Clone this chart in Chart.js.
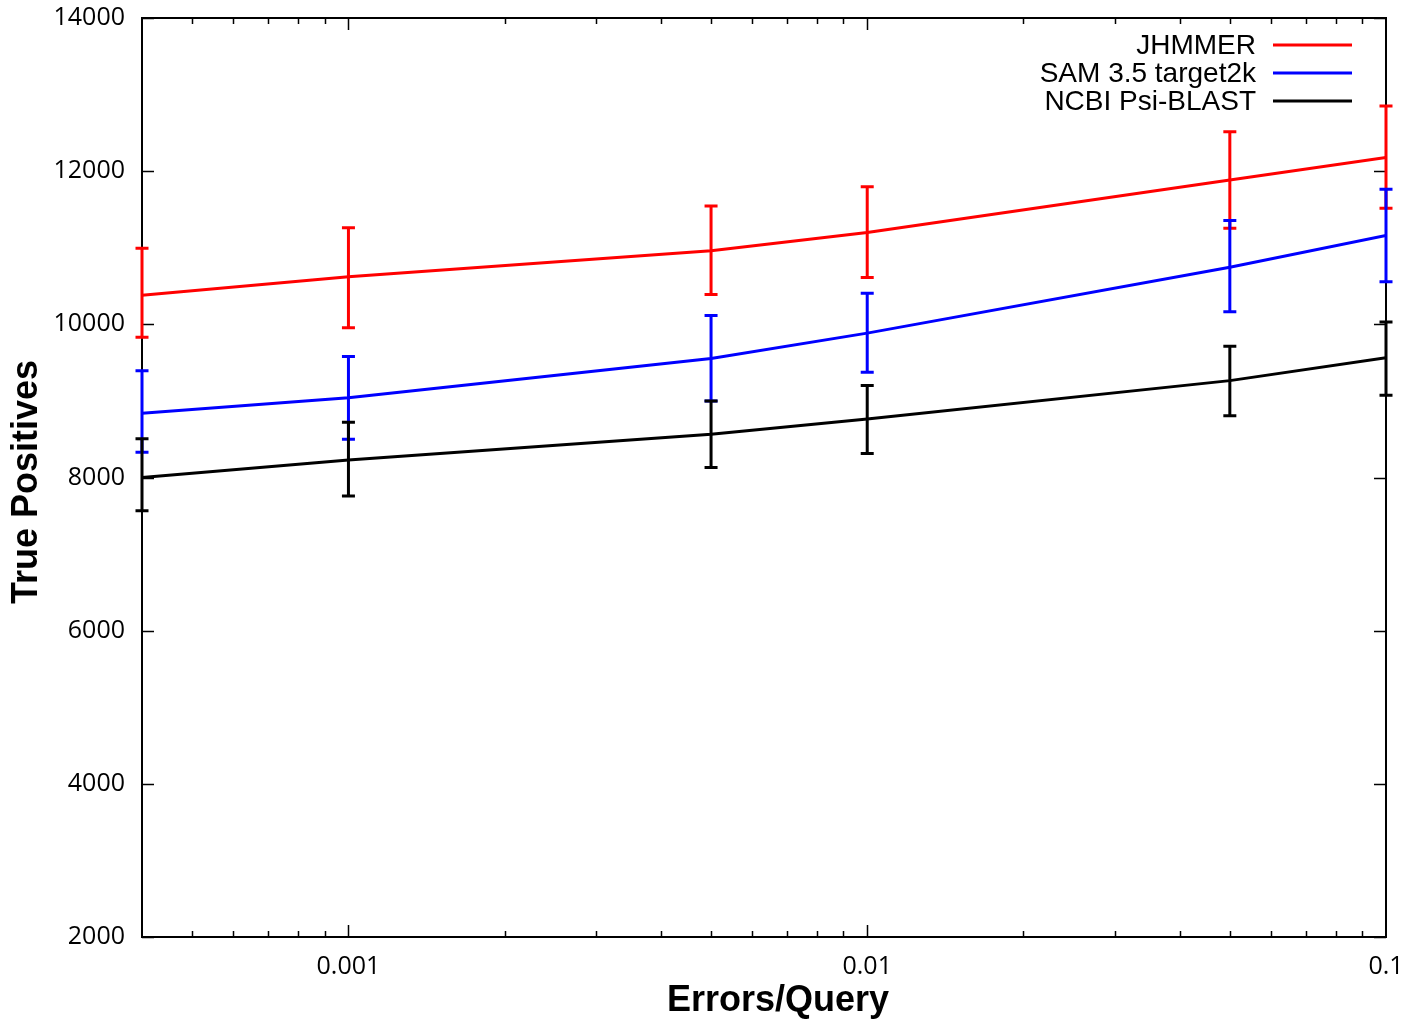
<!DOCTYPE html>
<html>
<head>
<meta charset="utf-8">
<title>True Positives vs Errors/Query</title>
<script src="https://cdn.jsdelivr.net/npm/chart.js@4.4.0/dist/chart.umd.min.js"></script>
<style>
    html, body { margin: 0; padding: 0; background: #fff; }
</style>
</head>
<body>
<canvas id="chart_tp" width="1421" height="1026"></canvas>
<script>
// Data
const errorsPerQuery = [0.0004, 0.001, 0.005, 0.01, 0.05, 0.1];
const xTickValues = [0.001, 0.01, 0.1];
const yTickStep = 2000;

const seriesLabels = ['JHMMER', 'SAM 3.5 target2k', 'NCBI Psi-BLAST'];
const seriesColors = ['#ff0000', '#0000ff', '#000000'];

const jhmmer = [10380, 10620, 10960, 11200, 11885, 12180];
const jhmmerLow = [9830, 9955, 10390, 10610, 11255, 11515];
const jhmmerHigh = [10995, 11260, 11545, 11795, 12515, 12850];

const sam = [8840, 9040, 9555, 9885, 10745, 11160];
const samLow = [8330, 8500, 9000, 9375, 10165, 10555];
const samHigh = [9395, 9580, 10115, 10405, 11355, 11765];

const blast = [8000, 8230, 8565, 8765, 9265, 9565];
const blastLow = [7565, 7760, 8130, 8315, 8805, 9075];
const blastHigh = [8505, 8720, 9000, 9200, 9715, 10030];

const seriesValues = [jhmmer, sam, blast];
const seriesLow = [jhmmerLow, samLow, blastLow];
const seriesHigh = [jhmmerHigh, samHigh, blastHigh];

// Build the datasets (order: red drawn first, black on top)
const datasets = seriesValues.map((vals, k) => ({
    label: seriesLabels[k],
    data: vals.map((v, i) => ({x: errorsPerQuery[i], y: v})),
    errLow: seriesLow[k],
    errHigh: seriesHigh[k],
    borderColor: seriesColors[k],
    backgroundColor: seriesColors[k],
    borderWidth: 3,
    pointRadius: 0,
    tension: 0,
    order: 3 - k
}));

const errorBarPlugin = { // error bars drawn right after their own line
    id: 'errorBars',
    afterDatasetDraw(chart, args) {
        const ds = chart.data.datasets[args.index];
        const xs = chart.scales.x;
        const ys = chart.scales.y;
        const ctx = chart.ctx;
        ctx.save();
        ctx.strokeStyle = ds.borderColor;
        ctx.lineWidth = 3;
        ctx.lineCap = 'butt';
        ds.data.forEach((p, i) => {
            const px = xs.getPixelForValue(p.x);
            const top = ys.getPixelForValue(ds.errHigh[i]);
            const bot = ys.getPixelForValue(ds.errLow[i]);
            ctx.beginPath();
            ctx.moveTo(px, top);
            ctx.lineTo(px, bot);
            ctx.moveTo(px - 6.5, top);
            ctx.lineTo(px + 6.5, top);
            ctx.moveTo(px - 6.5, bot);
            ctx.lineTo(px + 6.5, bot);
            ctx.stroke();
        });
        ctx.restore();
    }
};

const framePlugin = { // gnuplot style frame with inward ticks, titles and legend
    id: 'frame',
    beforeDatasetsDraw(chart) {
        const ctx = chart.ctx;
        const a = chart.chartArea;
        const xs = chart.scales.x;
        const ys = chart.scales.y;
        ctx.save();
        ctx.strokeStyle = '#000';
        ctx.lineWidth = 1.5;
        ctx.beginPath();
        ys.ticks.forEach(t => {
            const py = Math.round(ys.getPixelForValue(t.value)) + 0.5;
            ctx.moveTo(a.left, py);
            ctx.lineTo(a.left + 12, py);
            ctx.moveTo(a.right, py);
            ctx.lineTo(a.right - 12, py);
        });
        for (let e = -4; e <= -2; e++) {
            for (let m = 1; m <= 9; m++) {
                const v = m * Math.pow(10, e);
                if (v <= xs.min * 1.0001 || v >= xs.max * 0.9999) continue;
                const px = Math.round(xs.getPixelForValue(v)) + 0.5;
                const len = (m === 1) ? 12 : 6;
                ctx.moveTo(px, a.bottom);
                ctx.lineTo(px, a.bottom - len);
                ctx.moveTo(px, a.top);
                ctx.lineTo(px, a.top + len);
            }
        }
        ctx.stroke();
        ctx.lineWidth = 2;
        ctx.strokeRect(a.left, a.top, a.right - a.left, a.bottom - a.top);
        ctx.restore();
    },
    afterDraw(chart) {
        const ctx = chart.ctx;
        ctx.save();
        ctx.fillStyle = '#000';
        ctx.font = 'bold 36px "Liberation Sans", Arial, sans-serif';
        ctx.textAlign = 'center';
        ctx.textBaseline = 'middle';
        ctx.fillText('Errors/Query', 778, 1001);
        ctx.translate(27, 482);
        ctx.rotate(-Math.PI / 2);
        ctx.fillText('True Positives', 0, 0);
        ctx.restore();

        // legend: text right aligned, line sample on the right
        ctx.save();
        ctx.font = '28px "Liberation Sans", Arial, sans-serif';
        ctx.textAlign = 'right';
        ctx.textBaseline = 'middle';
        ctx.lineWidth = 3;
        chart.data.datasets.forEach((ds, i) => {
            const ly = 45 + 28 * i;
            ctx.fillStyle = '#000';
            ctx.fillText(ds.label, 1256, ly + 1);
            ctx.strokeStyle = ds.borderColor;
            ctx.beginPath();
            ctx.moveTo(1273, ly);
            ctx.lineTo(1352, ly);
            ctx.stroke();
        });
        ctx.restore();
    }
};

const ctx = document.getElementById('chart_tp').getContext('2d');
const tpChart = new Chart(ctx, {
    type: 'line',
    data: { datasets: datasets },
    options: {
        responsive: false,
        animation: false,
        layout: { padding: { top: 18, right: 35, left: 0, bottom: 0 } },
        plugins: {
            legend: { display: false },
            tooltip: { enabled: false }
        },
        scales: {
            x: {
                type: 'logarithmic',
                min: 0.0004,
                max: 0.1,
                grid: { display: false },
                border: { display: false },
                afterBuildTicks: scale => {
                    scale.ticks = xTickValues.map(v => ({value: v}));
                },
                afterFit: scale => {
                    scale.height = 89;
                    scale.paddingLeft = 0;
                    scale.paddingRight = 0;
                },
                ticks: {
                    autoSkip: false,
                    maxRotation: 0,
                    padding: 7,
                    color: '#000',
                    font: { family: '"Open Sans", sans-serif', size: 25 },
                    callback: v => String(v)
                }
            },
            y: {
                type: 'linear',
                min: 2000,
                max: 14000,
                grid: { display: false },
                border: { display: false },
                afterFit: scale => {
                    scale.width = 142;
                    scale.paddingTop = 0;
                    scale.paddingBottom = 0;
                },
                ticks: {
                    stepSize: yTickStep,
                    padding: 9,
                    color: '#000',
                    font: { family: '"Open Sans", sans-serif', size: 25 },
                    callback: v => String(v)
                }
            }
        }
    },
    plugins: [errorBarPlugin, framePlugin]
});
</script>
</body>
</html>
